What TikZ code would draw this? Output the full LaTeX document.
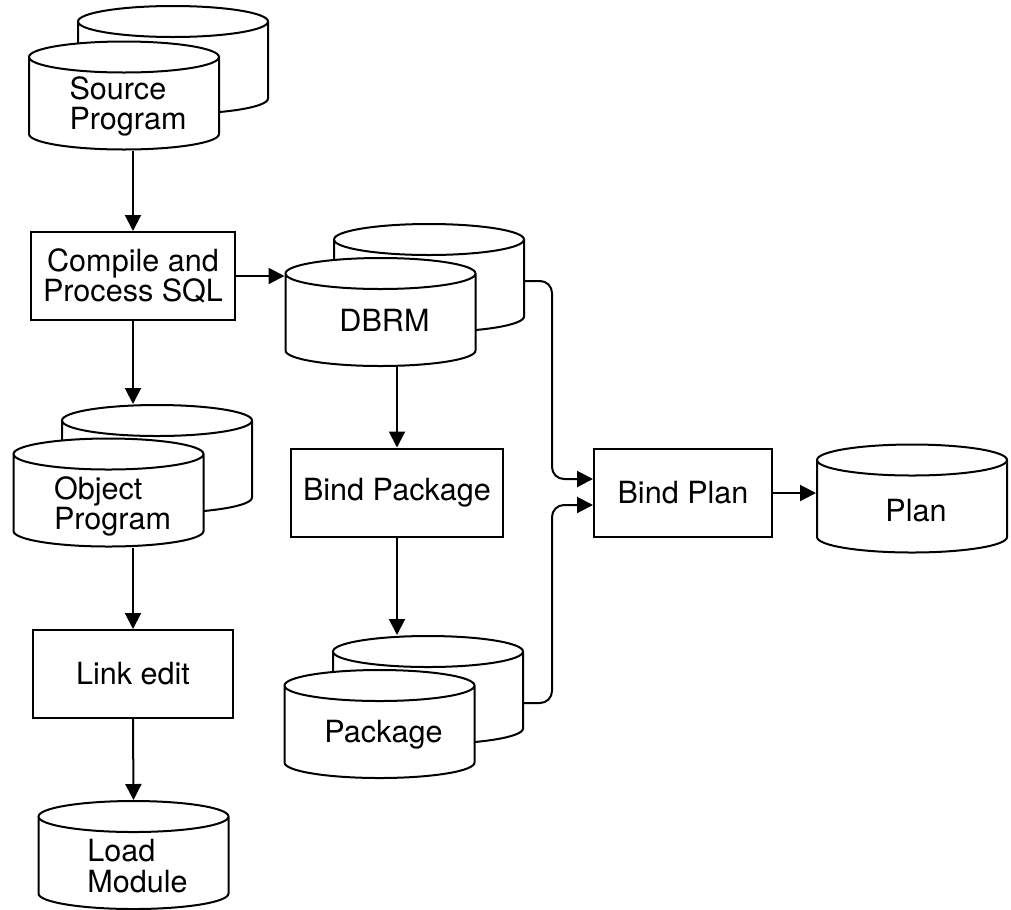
\documentclass[tikz,border=0pt]{standalone}
\usepackage{fontspec}
\setmainfont{TeX Gyre Heros}
\usetikzlibrary{arrows.meta}

\begin{document}
\begin{tikzpicture}[>={Triangle[length=0.16cm,width=0.16cm]},line width=0.02cm,font=\fontsize{8.7}{8.6}\selectfont]
\tikzstyle{proc}=[draw,minimum width=2cm,minimum height=0.88cm,align=center]
\tikzstyle{cyl}=[minimum width=1.9cm,minimum height=1.08cm,inner sep=0pt]
\tikzstyle{cyltxt}=[align=left,inner sep=0pt]
\useasboundingbox (0,0) rectangle (10.11,-9.09);
% data sets: back copy first, then front copy
\foreach \n/\x/\y/\t/\d in {srcb/1.73/-0.60/{}/0,srcf/1.24/-0.955/{Source\\Program}/0.11,
  objb/1.57/-4.59/{}/0,objf/1.085/-4.925/{Object\\Program}/0.14,load/1.335/-8.55/{Load\\Module}/0.11,
  dbrmb/4.29/-2.78/{}/0,dbrmf/3.805/-3.12/{DBRM}/0.08,pkgb/4.28/-6.90/{}/0,pkgf/3.795/-7.24/{Package}/0.11,
  plan/9.12/-4.985/{Plan}/0.12}{
  \filldraw[fill=white] (\x-0.95,\y+0.385) -- (\x-0.95,\y-0.385) arc[start angle=180,end angle=360,x radius=0.95,y radius=0.155]
    -- (\x+0.95,\y+0.385) arc[start angle=0,end angle=180,x radius=0.95,y radius=0.155]
    arc[start angle=180,end angle=360,x radius=0.95,y radius=0.155];
  \node[cyl] (\n) at (\x,\y) {};
  \node[cyltxt] (\n-txt) at (\x+0.04,\y-\d) {\t};
}
\node[proc] (comp) at (1.33,-2.76) {Compile and\\Process SQL};
\node[proc] (link) at (1.33,-6.74) {Link edit};
\node[proc] (bpkg) at (3.97,-4.925) {Bind Package};
\node[proc,minimum width=1.78cm] (bplan) at (6.83,-4.93) {Bind Plan};
\coordinate (jn) at (5.52,-4.93);
\draw[->] (comp.north |- srcf.south) -- (comp.north);
\draw[->] (comp.east) -- (dbrmf.west |- comp.east);
\draw[->] (comp.south) -- (comp.south |- objb.north);
\draw[->] (link.north |- objf.south) -- (link.north);
\draw[->] (link.south) -- (load.north);
\draw[->] (bpkg.north |- dbrmf.south) -- (bpkg.north);
\draw[->] (bpkg.south) -- (bpkg.south |- pkgb.north);
\draw[->,rounded corners=0.12cm] ([yshift=-0.03cm]dbrmb.east) -| ([yshift=0.14cm]jn) -- ([yshift=0.14cm]bplan.west);
\draw[->,rounded corners=0.12cm] ([yshift=-0.13cm]pkgb.east) -| ([yshift=-0.12cm]jn) -- ([yshift=-0.12cm]bplan.west);
\draw[->] (bplan.east) -- (plan.west |- bplan.east);
\end{tikzpicture}
\end{document}
